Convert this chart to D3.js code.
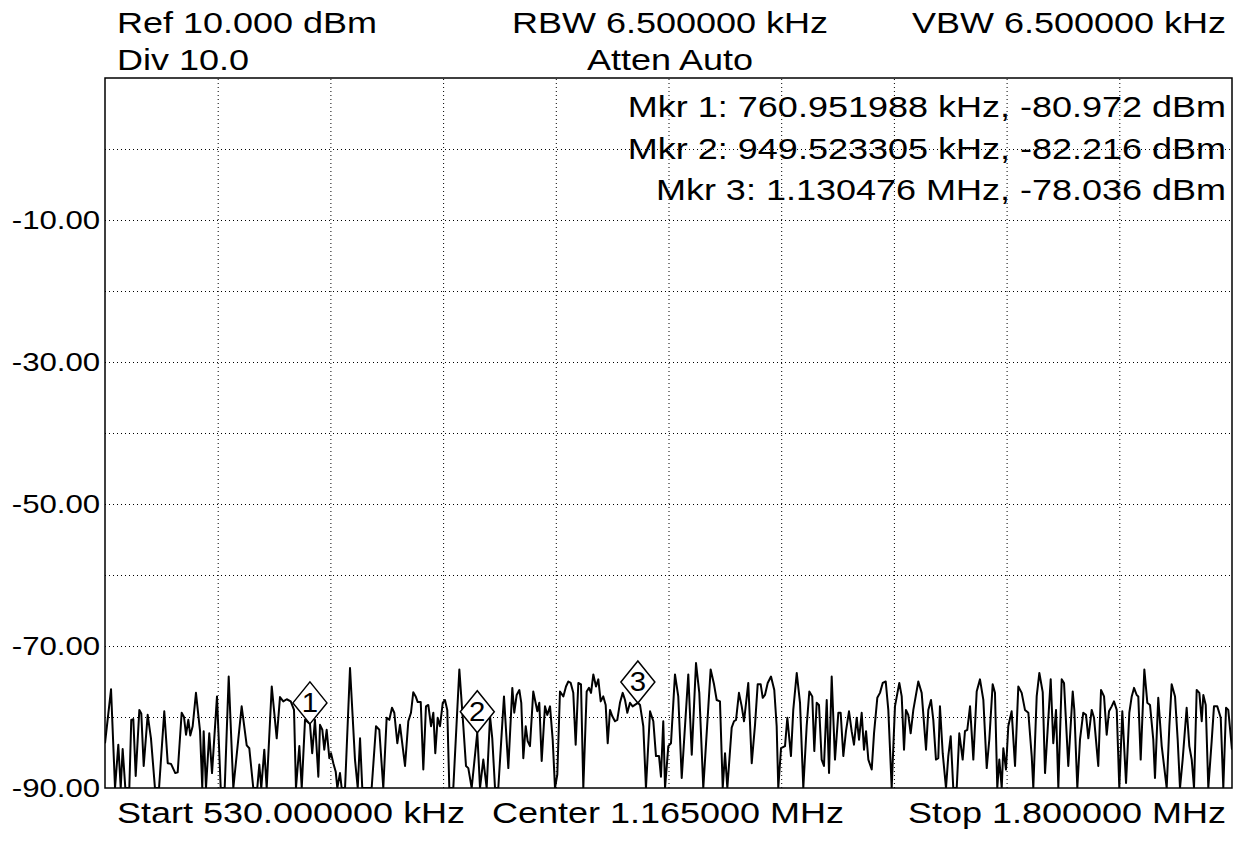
<!DOCTYPE html>
<html>
<head>
<meta charset="utf-8">
<script src="https://cdn.jsdelivr.net/npm/d3@7"></script>
<style>
  html, body { margin: 0; padding: 0; background: #fff; }
  text { font-family: "Liberation Sans", Arial, sans-serif; fill: #000; }
</style>
</head>
<body>
<svg id="canvas"></svg>
<script>
const width = 1238;
const height = 842;

const startKHz = 530;
const stopKHz = 1800;
const refDbm = 10;
const bottomDbm = -90;

const headerLeft = ["Ref 10.000 dBm", "Div 10.0"];
const headerMid = ["RBW 6.500000 kHz", "Atten Auto"];
const headerRight = ["VBW 6.500000 kHz"];
const markerLines = [
  "Mkr 1: 760.951988 kHz, -80.972 dBm",
  "Mkr 2: 949.523305 kHz, -82.216 dBm",
  "Mkr 3: 1.130476 MHz, -78.036 dBm"
];
const footer = ["Start 530.000000 kHz", "Center 1.165000 MHz", "Stop 1.800000 MHz"];

const yLabelValues = [-10, -30, -50, -70, -90];
const yGridValues = [0, -10, -20, -30, -40, -50, -60, -70, -80];
const xGridValues = [657, 784, 911, 1038, 1165, 1292, 1419, 1546, 1673];

const markerIds = ["1", "2", "3"];
const markerKHz = [760.951988, 949.523305, 1130.476];
const markerDbm = [-80.972, -82.216, -78.036];

// trace: [kHz, dBm]
const trace = [
  [530,-83.7],[536.8,-76.1],[541.3,-90],[545.0,-83.9],[547.7,-90],[549.9,-84.5],[552.9,-90],[557.4,-90],
  [559.6,-80.4],[561.9,-80.3],[564.6,-88.3],[568.7,-79.0],[570.9,-79.5],[573.6,-86.9],[578.1,-79.7],[581.8,-83.0],
  [586.3,-90],[590.9,-90],[596.8,-79.2],[600.7,-86.5],[604.4,-86.6],[609.2,-87.9],[611.9,-87.8],[616.4,-79.4],
  [619.0,-80.0],[621.3,-82.5],[623.9,-80.4],[626.1,-82.6],[628.8,-81.3],[632.5,-76.6],[637.1,-82.0],[639.6,-90],
  [641.2,-82.0],[643.8,-90],[647.5,-82.3],[650.6,-87.9],[656.2,-77.1],[660.4,-90],[664.9,-90],[669.4,-74.3],
  [674.6,-90],[684.0,-78.5],[689.7,-84.0],[692.6,-84.4],[697.1,-90],[701.6,-90],[703.9,-86.7],[706.1,-90],
  [709.5,-84.6],[712.2,-90],[717.9,-75.7],[723.5,-83.0],[727.2,-77.2],[730.9,-77.8],[734.8,-77.5],[739.3,-77.8],
  [743.0,-79.0],[745.2,-90],[749.0,-84.1],[751.7,-90],[755.4,-80.4],[761.0,-81.0],[763.5,-85.1],[766.6,-80.4],
  [770.4,-88.4],[772.3,-81.1],[774.9,-81.8],[777.1,-84.6],[779.8,-81.8],[782.8,-85.8],[784.7,-85.1],[787.3,-86.5],
  [790.0,-87.7],[791.8,-90],[794.8,-87.9],[796.7,-90],[800.5,-90],[806.1,-73.1],[811.7,-86.0],[814.8,-90],
  [817.4,-83.0],[819.9,-90],[830.5,-90],[835.4,-81.3],[839.1,-81.8],[843.6,-90],[847.4,-80.1],[850.4,-80.4],
  [853.4,-78.7],[856.0,-79.4],[859.4,-83.7],[862.4,-81.1],[868.1,-86.9],[871.8,-80.6],[874.8,-79.4],[877.4,-76.5],
  [880.1,-77.1],[882.4,-77.9],[885.8,-77.9],[888.7,-87.4],[891.7,-78.5],[894.3,-78.3],[897.4,-81.3],[900.0,-79.4],
  [902.2,-85.1],[904.9,-80.1],[907.5,-81.3],[910.6,-78.0],[913.1,-77.6],[915.7,-79.0],[918.0,-90],[922.5,-90],
  [929.3,-73.3],[933.8,-81.3],[936.8,-86.9],[939.4,-87.2],[943.2,-90],[949.5,-82.2],[952.6,-90],[956.3,-86.0],
  [960.1,-90],[963.9,-79.9],[966.4,-83.0],[969.5,-90],[973.2,-90],[979.6,-77.1],[984.5,-87.2],[989.0,-75.9],
  [991.2,-79.4],[993.9,-76.9],[996.9,-76.2],[999.1,-78.0],[1001.4,-85.8],[1004.1,-81.3],[1006.3,-83.4],[1008.9,-84.1],
  [1012.6,-76.4],[1017.2,-79.2],[1019.4,-78.0],[1022.1,-86.2],[1025.8,-78.5],[1028.4,-79.7],[1031.5,-78.5],[1034.5,-83.2],
  [1037.1,-90],[1039.7,-88.1],[1042.7,-76.4],[1046.5,-77.1],[1049.5,-75.7],[1052.1,-75.0],[1054.8,-75.2],[1057.7,-76.6],
  [1060.4,-83.9],[1063.4,-75.2],[1066.4,-75.4],[1069.0,-90],[1072.8,-76.4],[1075.4,-75.9],[1077.7,-76.6],[1080.3,-74.0],
  [1083.3,-75.7],[1085.9,-74.7],[1088.6,-77.8],[1091.5,-77.1],[1094.2,-78.3],[1096.5,-83.7],[1099.1,-79.0],[1101.7,-79.9],
  [1104.7,-80.6],[1107.3,-80.4],[1110.3,-78.0],[1113.4,-76.6],[1116.0,-77.6],[1118.6,-79.4],[1121.6,-78.0],[1124.6,-78.5],
  [1130.5,-78.0],[1132.9,-78.3],[1136.6,-81.3],[1139.6,-90],[1144.2,-79.2],[1147.9,-80.6],[1150.9,-85.5],[1154.3,-85.5],
  [1156.5,-88.4],[1159.1,-80.6],[1161.1,-90],[1164.8,-84.1],[1167.8,-83.7],[1172.3,-74.0],[1176.0,-77.1],[1179.9,-88.6],
  [1187.3,-74.0],[1191.2,-85.3],[1196.0,-72.4],[1199.7,-76.6],[1204.2,-90],[1212.5,-73.3],[1216.3,-75.4],[1219.3,-77.6],
  [1223.0,-77.8],[1226.1,-90],[1228.7,-85.1],[1231.3,-90],[1236.2,-81.5],[1238.8,-80.6],[1241.1,-80.4],[1244.4,-76.6],
  [1247.5,-78.5],[1250.1,-80.6],[1254.9,-75.2],[1258.8,-86.5],[1262.5,-81.1],[1265.5,-75.4],[1268.9,-75.4],[1271.2,-77.3],
  [1273.7,-76.9],[1276.8,-75.2],[1280.5,-74.3],[1284.2,-76.2],[1286.9,-81.3],[1288.7,-90],[1291.8,-84.4],[1296.3,-84.1],
  [1298.9,-80.1],[1303.0,-85.5],[1305.6,-79.0],[1309.5,-73.8],[1313.2,-78.0],[1316.9,-90],[1320.7,-81.3],[1323.7,-76.4],
  [1327.0,-77.1],[1329.3,-84.8],[1332.0,-78.0],[1334.6,-78.3],[1337.6,-86.0],[1340.2,-86.9],[1343.3,-77.6],[1345.9,-87.9],
  [1348.9,-74.3],[1352.6,-86.0],[1356.4,-79.4],[1359.0,-79.4],[1362.0,-85.5],[1365.0,-82.0],[1368.4,-79.2],[1371.4,-82.0],
  [1374.0,-83.9],[1377.1,-80.1],[1379.7,-83.2],[1382.7,-79.4],[1385.3,-84.6],[1387.6,-82.0],[1390.2,-86.0],[1394.0,-87.4],
  [1396.6,-82.3],[1400.3,-77.3],[1403.3,-76.6],[1406.4,-75.2],[1409.8,-75.0],[1412.7,-79.0],[1416.5,-90],[1420.2,-78.5],
  [1425.1,-75.2],[1427.8,-77.1],[1430.4,-84.6],[1432.6,-79.0],[1435.2,-79.7],[1437.9,-82.3],[1440.9,-79.0],[1446.5,-75.0],
  [1450.3,-76.6],[1455.2,-84.6],[1457.8,-79.0],[1460.8,-77.6],[1463.4,-80.4],[1466.4,-86.0],[1469.0,-85.8],[1470.9,-78.5],
  [1474.0,-85.1],[1477.7,-90],[1480.3,-85.5],[1483.0,-82.7],[1485.9,-90],[1489.8,-90],[1492.7,-82.3],[1496.5,-86.0],
  [1499.1,-82.0],[1501.7,-81.8],[1504.8,-78.5],[1508.5,-86.0],[1512.3,-76.4],[1516.0,-74.7],[1519.8,-77.6],[1523.6,-87.2],
  [1526.5,-83.2],[1530.3,-75.4],[1532.9,-76.6],[1535.5,-90],[1537.8,-86.0],[1540.5,-90],[1542.3,-84.4],[1545.3,-87.4],
  [1547.9,-81.3],[1551.7,-79.2],[1555.5,-86.9],[1559.2,-75.7],[1563.0,-76.6],[1566.7,-79.0],[1570.5,-79.4],[1574.3,-85.5],
  [1576.1,-90],[1579.9,-77.1],[1582.9,-73.8],[1586.7,-76.5],[1589.3,-87.9],[1595.7,-74.7],[1598.6,-83.7],[1601.7,-79.0],
  [1604.3,-90],[1608.1,-74.7],[1610.7,-75.2],[1615.5,-86.9],[1620.5,-76.4],[1622.3,-79.0],[1625.7,-90],[1628.7,-83.2],
  [1632.4,-79.4],[1635.5,-79.7],[1638.1,-83.0],[1641.9,-79.0],[1644.5,-80.1],[1649.3,-86.9],[1652.4,-76.2],[1655.8,-77.1],
  [1658.8,-82.5],[1661.4,-79.2],[1664.4,-78.5],[1667.0,-77.8],[1670.1,-79.0],[1673.0,-90],[1676.4,-79.2],[1680.6,-89.3],
  [1684.3,-79.4],[1687.0,-77.1],[1689.6,-75.9],[1692.6,-76.9],[1694.4,-77.1],[1697.1,-86.0],[1701.2,-73.3],[1704.6,-78.0],
  [1707.6,-78.3],[1711.3,-83.2],[1713.2,-88.6],[1716.9,-77.3],[1720.8,-84.1],[1726.4,-90],[1729.4,-81.3],[1732.0,-75.4],
  [1735.8,-77.1],[1738.8,-83.2],[1741.4,-90],[1744.4,-86.0],[1748.9,-78.7],[1751.9,-84.1],[1754.6,-86.0],[1757.2,-90],
  [1760.2,-76.2],[1763.2,-76.6],[1765.9,-80.6],[1767.7,-76.9],[1770.4,-78.3],[1773.3,-90],[1777.1,-83.4],[1779.7,-78.5],
  [1783.4,-78.5],[1787.3,-80.1],[1790.2,-90],[1793.3,-78.7],[1795.8,-79.0],[1800.0,-84.6]
];

const plot = { left: 105, right: 1232, top: 78, bottom: 788 };
const stretch = 1.2; // the instrument font is drawn wider than it is tall

let svg = d3.select("#canvas")
            .attr("width", width)
            .attr("height", height);

const x = d3.scaleLinear()
            .domain([startKHz, stopKHz])
            .range([plot.left, plot.right]);

const y = d3.scaleLinear()
            .domain([bottomDbm, refDbm])
            .range([plot.bottom, plot.top]);

function label(txt, px, py, anchor, size) {
  svg.append("text")
     .attr("transform", `translate(${px},${py}) scale(${stretch},1)`)
     .attr("text-anchor", anchor)
     .style("font-size", `${size}px`)
     .text(txt);
}

// header and footer text
label(headerLeft[0], 117, 33, "start", 30);
label(headerLeft[1], 117, 70, "start", 30);
label(headerMid[0], 670, 33, "middle", 30);
label(headerMid[1], 670, 70, "middle", 30);
label(headerRight[0], 1226, 33, "end", 30);
markerLines.forEach((t, i) => label(t, 1226, 117 + i * 41.5, "end", 30));
label(footer[0], 117, 823, "start", 30);
label(footer[1], 668, 823, "middle", 30);
label(footer[2], 1226, 823, "end", 30);

// dotted grid
svg.append("g")
   .attr("transform", `translate(0, ${plot.bottom})`)
   .call(d3.axisBottom(x).tickValues(xGridValues).tickSize(-(plot.bottom - plot.top)).tickFormat(""))
   .call(g => g.select(".domain").remove())
   .call(g => g.selectAll("line").attr("stroke", "#000").attr("stroke-dasharray", "1,3"));

svg.append("g")
   .attr("transform", `translate(${plot.left}, 0)`)
   .call(d3.axisLeft(y).tickValues(yGridValues).tickSize(-(plot.right - plot.left)).tickFormat(""))
   .call(g => g.select(".domain").remove())
   .call(g => g.selectAll("line").attr("stroke", "#000").attr("stroke-dasharray", "1,3"));

// y labels (plain hyphen, as on the instrument)
svg.append("g")
   .attr("transform", `translate(${plot.left}, 0)`)
   .call(d3.axisLeft(y).tickValues(yLabelValues).tickSize(0).tickPadding(4).tickFormat(d => d.toFixed(2)))
   .call(g => g.select(".domain").remove())
   .call(g => g.selectAll("text")
               .attr("fill", "#000")
               .style("font-family", '"Liberation Sans", Arial, sans-serif')
               .style("font-size", "26px")
               .attr("transform", `scale(${stretch},1)`));

// trace
svg.append("clipPath")
   .attr("id", "plot-clip")
   .append("rect")
   .attr("x", plot.left)
   .attr("y", plot.top)
   .attr("width", plot.right - plot.left)
   .attr("height", plot.bottom - plot.top);

const line = d3.line()
               .x(d => x(d[0]))
               .y(d => y(d[1]));

svg.append("path")
   .datum(trace)
   .attr("clip-path", "url(#plot-clip)")
   .attr("fill", "none")
   .attr("stroke", "#000")
   .attr("stroke-width", 2)
   .attr("stroke-linejoin", "round")
   .attr("d", line);

// frame
svg.append("rect")
   .attr("x", plot.left)
   .attr("y", plot.top)
   .attr("width", plot.right - plot.left)
   .attr("height", plot.bottom - plot.top)
   .attr("fill", "none")
   .attr("stroke", "#000")
   .attr("stroke-width", 1.5);

// markers: diamond with its lower tip on the marker point
const mk = svg.selectAll(".marker")
              .data(markerIds)
              .enter()
              .append("g")
              .attr("class", "marker")
              .attr("transform", (d, i) => `translate(${x(markerKHz[i])}, ${y(markerDbm[i])})`);

mk.append("path")
  .attr("d", "M0,0 L-17,-21 L0,-42 L17,-21 Z")
  .attr("fill", "#fff")
  .attr("stroke", "#000")
  .attr("stroke-width", 1.5);

mk.append("text")
  .attr("transform", `translate(0,-12) scale(1.05,1)`)
  .attr("text-anchor", "middle")
  .style("font-size", "28px")
  .text(d => d);
</script>
</body>
</html>
